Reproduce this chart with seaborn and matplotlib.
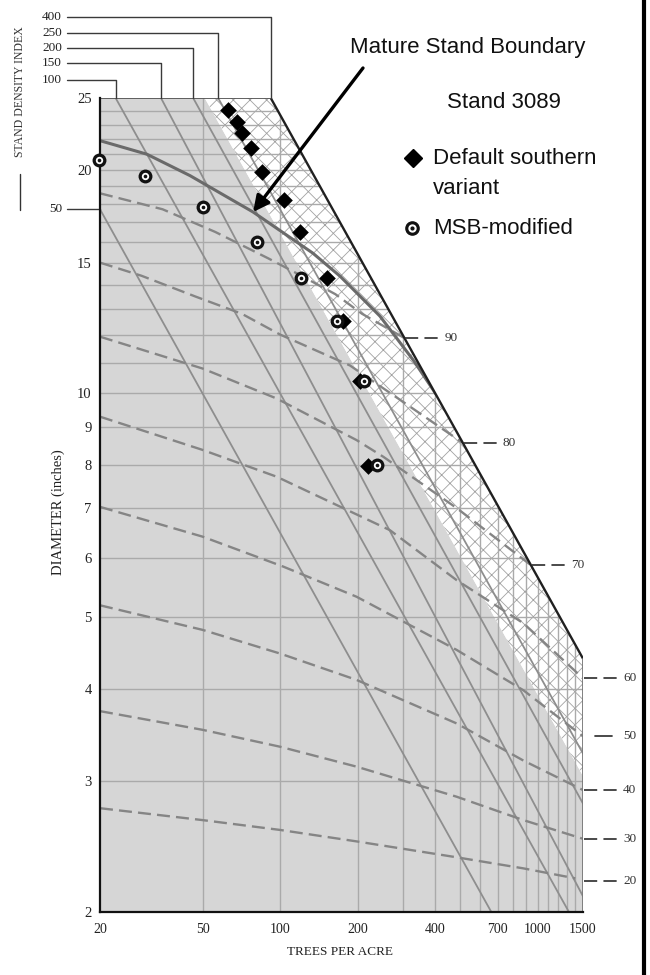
import matplotlib
matplotlib.use("Agg")
import matplotlib.pyplot as plt
import matplotlib.transforms as mtransforms
from matplotlib.patches import Polygon
from matplotlib.lines import Line2D
from matplotlib.ticker import FixedLocator, NullFormatter
import numpy as np
import pandas as pd
import seaborn as sns

# ------------------------------------------------------------------ data
x_ticks = [20, 50, 100, 200, 400, 700, 1000, 1500]
y_ticks = [2, 3, 4, 5, 6, 7, 8, 9, 10, 15, 20, 25]
x_minor = [30, 40, 60, 70, 80, 90, 150, 250, 350, 450]
grid_tpa = [50, 100, 200, 300, 400, 500, 600, 700, 800, 900, 1000, 1100, 1200, 1300, 1400]
grid_dia = list(range(3, 25))

# stand density index lines (end points)
sdi_values = [50, 100, 150, 200, 250]
sdi_tpa_start = [20, 23, 34.5, 46, 57.5]
sdi_dia_start = [17.7, 25, 25, 25, 25]
sdi_tpa_end = [661, 1323, 1500, 1500, 1500]
sdi_dia_end = [2.0, 2.0, 2.1, 2.8, 3.27]
sdi_max = 400
max_tpa = [92, 1500]
max_dia = [25, 4.39]
zone_tpa = [51, 1500]          # lower edge of the cross-hatched zone
zone_dia = [25, 3.05]

# mature stand boundary
msb_tpa = [20, 30.4, 44.7, 78.6, 134, 171, 244, 330, 405]
msb_dia = [21.9, 21.0, 19.65, 17.55, 15.45, 14.38, 12.71, 11.07, 9.95]

# dashed curves
curve_labels = [90, 80, 70, 60, 50, 40, 30, 20]
curve_tpa = {
    90: [20, 35, 56, 90, 121, 164, 208, 304],
    80: [20, 29, 47, 71, 100, 187, 511],
    70: [20, 50, 97, 198, 252, 486, 940],
    60: [20, 50, 97, 267, 485, 880, 1500],
    50: [20, 50, 103, 198, 485, 880, 1500],
    40: [20, 50, 100, 198, 485, 880, 1500],
    30: [20, 50, 100, 198, 485, 880, 1500],
    20: [20, 50, 100, 198, 485, 880, 1400],
}
curve_dia = {
    90: [18.6, 17.7, 16.5, 15.2, 14.4, 13.6, 12.8, 11.87],
    80: [15.0, 14.4, 13.5, 12.8, 12.0, 10.9, 8.58],
    70: [11.92, 10.8, 9.84, 8.65, 8.21, 7.0, 5.87],
    60: [9.3, 8.39, 7.72, 6.54, 5.6, 4.9, 4.13],
    50: [7.03, 6.41, 5.84, 5.32, 4.51, 3.98, 3.45],
    40: [5.18, 4.8, 4.46, 4.11, 3.59, 3.2, 2.92],
    30: [3.73, 3.52, 3.34, 3.14, 2.86, 2.66, 2.51],
    20: [2.76, 2.66, 2.58, 2.49, 2.37, 2.29, 2.22],
}
label_tpa = [304, 511, 940, 1500, 1500, 1500, 1500, 1500]
label_dia = [11.87, 8.58, 5.87, 4.13, 3.45, 2.92, 2.51, 2.2]

# stand 3089 trajectories
default_tpa = [63.0, 67.9, 71.4, 76.9, 85.3, 103.5, 119.5, 152.5, 175.5, 204.3, 219.5]
default_dia = [24.1, 23.2, 22.4, 21.4, 19.9, 18.2, 16.5, 14.3, 12.5, 10.4, 7.98]
msbmod_tpa = [19.9, 29.9, 50.4, 81.2, 120.5, 166, 211.8, 237.8]
msbmod_dia = [20.6, 19.6, 17.8, 16.0, 14.3, 12.5, 10.4, 8.0]

# ------------------------------------------------------------------ style
sns.set_style("white")
plt.rcParams["font.family"] = ["Liberation Serif", "DejaVu Serif"]
plt.rcParams["hatch.linewidth"] = 0.6
SANS = ["Liberation Sans", "DejaVu Sans"]

W, H = 650, 975
fig = plt.figure(figsize=(6.5, 9.75), dpi=100)
L, R, T, B = 100, 583, 98, 912
ax = fig.add_axes([L / W, 1 - B / H, (R - L) / W, (B - T) / H])
ax.set_xscale("log")
ax.set_yscale("log")
ax.set_xlim(20, 1500)
ax.set_ylim(2, 25)


def fx(px):
    return px / W


def fy(py):
    return 1 - py / H


# region polygons
region = [(20, 2), (20, 25), (max_tpa[0], max_dia[0]), (max_tpa[1], max_dia[1]), (1500, 2)]
clip = Polygon(region, closed=True, transform=ax.transData, facecolor="none", edgecolor="none")
ax.add_patch(clip)
stip = Polygon([(20, 2), (20, 25), (zone_tpa[0], zone_dia[0]), (zone_tpa[1], zone_dia[1]), (1500, 2)],
               closed=True, facecolor="#d6d6d6", edgecolor="none", lw=0, zorder=0)
ax.add_patch(stip)
hatch = Polygon([(zone_tpa[0], zone_dia[0]), (max_tpa[0], max_dia[0]), (max_tpa[1], max_dia[1]),
                 (zone_tpa[1], zone_dia[1])], closed=True, facecolor="white",
                edgecolor="#a2a2a2", lw=0, hatch="xx", zorder=0.5)
ax.add_patch(hatch)

# grid lines clipped to the diagram
for t in grid_tpa:
    ln, = ax.plot([t, t], [2, 25], color="#aaaaaa", lw=1.0, zorder=1)
    ln.set_clip_path(clip)
for d in grid_dia:
    ln, = ax.plot([20, 1500], [d, d], color="#aaaaaa", lw=1.0, zorder=1)
    ln.set_clip_path(clip)

# SDI lines
sdi_df = pd.DataFrame({
    "sdi": np.repeat(sdi_values, 2),
    "tpa": np.ravel(np.column_stack([sdi_tpa_start, sdi_tpa_end])),
    "dia": np.ravel(np.column_stack([sdi_dia_start, sdi_dia_end])),
})
n0 = len(ax.lines)
sns.lineplot(data=sdi_df, x="tpa", y="dia", units="sdi", estimator=None, sort=False,
             color="#8e8e8e", lw=1.3, ax=ax, zorder=2, legend=False)
for ln in ax.lines[n0:]:
    ln.set_clip_path(clip)

# dashed curves
for lab in curve_labels:
    n0 = len(ax.lines)
    sns.lineplot(x=curve_tpa[lab], y=curve_dia[lab], color="#858585", lw=1.7,
                 linestyle=(0, (5.5, 2.6)), ax=ax, zorder=3, sort=False)
    for ln in ax.lines[n0:]:
        ln.set_clip_path(clip)

# mature stand boundary
n0 = len(ax.lines)
sns.lineplot(x=msb_tpa, y=msb_dia, color="#6a6a6a", lw=2.2, ax=ax, zorder=4, sort=False)
for ln in ax.lines[n0:]:
    ln.set_clip_path(clip)

# diagram outline
ax.plot(max_tpa, max_dia, color="#202020", lw=1.7, zorder=5, solid_capstyle="butt")
ax.plot([20, max_tpa[0]], [25, 25], color="#555555", lw=1.3, zorder=5)
ax.plot([1500, 1500], [max_dia[1], 2], color="#777777", lw=1.3, zorder=5)
for s in ["top", "right"]:
    ax.spines[s].set_visible(False)
for s in ["left", "bottom"]:
    ax.spines[s].set_color("#111111")
    ax.spines[s].set_linewidth(1.6)
    ax.spines[s].set_zorder(6)

# markers
sns.scatterplot(x=default_tpa, y=default_dia, marker="D", s=72, color="black",
                edgecolor="black", linewidth=0, ax=ax, zorder=8, clip_on=False)
sns.scatterplot(x=msbmod_tpa, y=msbmod_dia, marker="o", s=100, color="#111111",
                linewidth=0, ax=ax, zorder=9, clip_on=False)
sns.scatterplot(x=msbmod_tpa, y=msbmod_dia, marker="o", s=28, color="white",
                linewidth=0, ax=ax, zorder=10, clip_on=False)
sns.scatterplot(x=msbmod_tpa, y=msbmod_dia, marker="o", s=7, color="#111111",
                linewidth=0, ax=ax, zorder=11, clip_on=False)

# ticks
ax.xaxis.set_major_locator(FixedLocator(x_ticks))
ax.set_xticklabels([str(v) for v in x_ticks])
ax.xaxis.set_minor_locator(FixedLocator(x_minor))
ax.xaxis.set_minor_formatter(NullFormatter())
ax.yaxis.set_major_locator(FixedLocator(y_ticks))
ax.set_yticklabels([str(v) for v in y_ticks])
ax.yaxis.set_minor_locator(FixedLocator([d for d in grid_dia if d not in y_ticks]))
ax.yaxis.set_minor_formatter(NullFormatter())
ax.tick_params(axis="x", which="major", direction="in", length=0, pad=8,
               labelsize=10, colors="#222222")
ax.tick_params(axis="x", which="minor", direction="in", length=5, width=1, color="#777777")
ax.tick_params(axis="y", which="both", direction="in", length=6, width=1.4,
               color="#555555", pad=6, labelsize=10.5, labelcolor="#222222")
ax.set_xlabel("")
ax.set_ylabel("")

fig.text(fx(340), fy(952), "TREES PER ACRE", ha="center", va="center", fontsize=9.5, color="#222222")
fig.text(fx(58), fy(512), "DIAMETER (inches)", ha="center", va="center", rotation=90,
         fontsize=10.5, color="#222222")

# SDI labels on top
to_axes = ax.transAxes.inverted()
top_labels = [400, 250, 200, 150, 100]
top_y_px = [17.3, 33.3, 48.3, 63.3, 80]
top_tpa = [max_tpa[0], sdi_tpa_start[4], sdi_tpa_start[3], sdi_tpa_start[2], sdi_tpa_start[1]]
for lab, ypx, tpa in zip(top_labels, top_y_px, top_tpa):
    xa = to_axes.transform(ax.transData.transform((tpa, 25)))[0]
    ya = (B - ypx) / (B - T)
    xs = (67 - L) / (R - L)
    ax.add_line(Line2D([xs, xa, xa], [ya, ya, 1.0], transform=ax.transAxes, color="#3a3a3a",
                       lw=1.0, clip_on=False, zorder=7))
    ax.text((62 - L) / (R - L), ya, str(lab), transform=ax.transAxes, ha="right", va="center",
            fontsize=9.5, color="#222222")
blend = mtransforms.blended_transform_factory(ax.transAxes, ax.transData)
ax.add_line(Line2D([(67 - L) / (R - L), 0], [sdi_dia_start[0]] * 2, transform=blend,
                   color="#3a3a3a", lw=1.0, clip_on=False))
ax.text((62 - L) / (R - L), sdi_dia_start[0], str(sdi_values[0]), transform=blend,
        ha="right", va="center", fontsize=9.5, color="#222222")
fig.text(fx(20), fy(92), "STAND DENSITY INDEX", rotation=90, ha="center", va="center",
         fontsize=8.5, color="#333333")
fig.add_artist(Line2D([fx(20)] * 2, [fy(174), fy(210)], color="#333333", lw=1.0))

# labels of dashed curves
for lab, tpa, dia in zip(curve_labels, label_tpa, label_dia):
    if lab == 50:
        x0, x1, ls = 12, 29, "-"
    else:
        x0, x1, ls = 1, 34, (0, (7.6, 3.6))
    p = ax.transData.transform((tpa, dia))
    xs, ys = fig.transFigure.inverted().transform([(p[0] + x0, p[1]), (p[0] + x1, p[1])]).T
    fig.add_artist(Line2D(xs, ys, color="#333333", lw=1.25, linestyle=ls))
    q = fig.transFigure.inverted().transform((p[0] + 40, p[1]))
    fig.text(q[0], q[1], str(lab), ha="left", va="center", fontsize=9.5, color="#333333")

# annotation texts
fig.text(fx(350), fy(47), "Mature Stand Boundary", family=SANS, fontsize=16, ha="left",
         va="center", color="#111111")
fig.text(fx(447), fy(103), "Stand 3089", family=SANS, fontsize=16, ha="left", va="center",
         color="#111111")
fig.text(fx(433), fy(158), "Default southern", family=SANS, fontsize=16, ha="left",
         va="center", color="#111111")
fig.text(fx(433), fy(188), "variant", family=SANS, fontsize=16, ha="left", va="center",
         color="#111111")
fig.text(fx(433), fy(228), "MSB-modified", family=SANS, fontsize=16, ha="left", va="center",
         color="#111111")
fig.add_artist(Line2D([fx(413)], [fy(158)], marker="D", markersize=9, color="black", lw=0))
fig.add_artist(Line2D([fx(412)], [fy(228)], marker="o", markersize=9.5, color="#111111", lw=0))
fig.add_artist(Line2D([fx(412)], [fy(228)], marker="o", markersize=5, color="white", lw=0))
fig.add_artist(Line2D([fx(412)], [fy(228)], marker="o", markersize=2, color="#111111", lw=0))

ax.annotate("", xy=(msb_tpa[3], msb_dia[3]), xycoords="data",
            xytext=(fx(363), fy(68)), textcoords="figure fraction",
            arrowprops=dict(arrowstyle="-|>", color="black", lw=2.4, mutation_scale=24,
                            shrinkA=0, shrinkB=0), zorder=12, annotation_clip=False)

# right border
fig.add_artist(Line2D([fx(644)] * 2, [0, 1], color="black", lw=3))

fig.savefig("out.png", dpi=100)
